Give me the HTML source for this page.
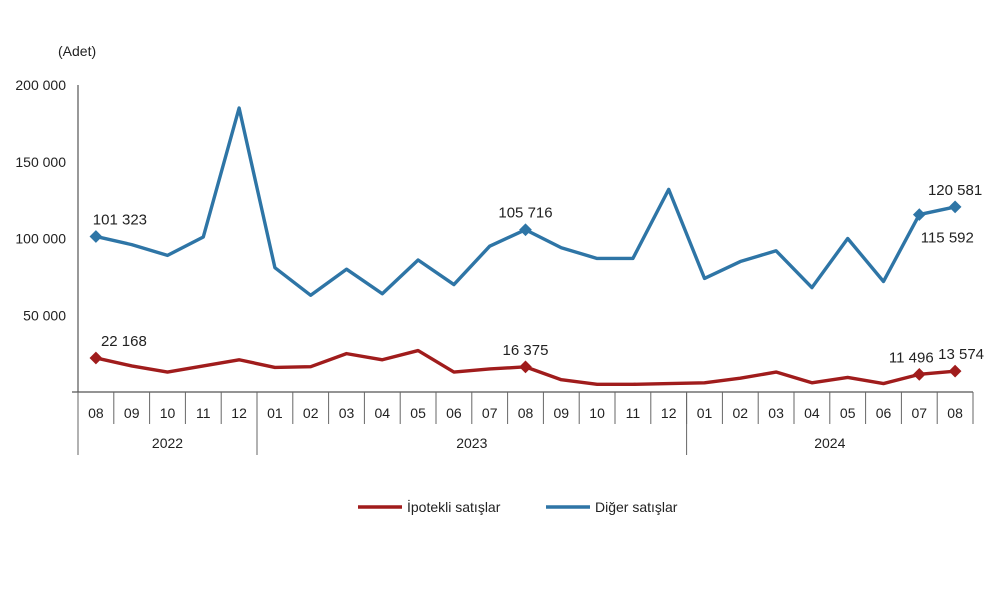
<!DOCTYPE html>
<html><head><meta charset="utf-8"><style>
body{margin:0;background:#fff;}
svg text{font-family:"Liberation Sans",sans-serif;fill:#222;}
</style></head><body>
<svg id="c" width="1000" height="593" viewBox="0 0 1000 593"></svg>
<script>
const months=["08","09","10","11","12","01","02","03","04","05","06","07","08","09","10","11","12","01","02","03","04","05","06","07","08"];
const years=["2022","2023","2024"];
const yearSpans=[5,12,8];
const diger=[101323,96000,89000,101000,185000,81000,63000,80000,64000,86000,70000,95000,105716,94000,87000,87000,132000,74000,85000,92000,68000,100000,72000,115592,120581];
const ipotekli=[22168,17000,13000,17000,21000,16000,16500,25000,21000,27000,13000,15000,16375,8000,5000,5000,5500,6000,9000,13000,6000,9500,5500,11496,13574];
const yTicks=[0,50000,100000,150000,200000];
const yTickLabels=["","50 000","100 000","150 000","200 000"];
const labeledIdx=[0,12,23,24];
const NS="http://www.w3.org/2000/svg";
const svg=document.getElementById('c');
const L=78,R=973,T=85,B=392,yMax=200000;
const bw=(R-L)/months.length;
const x=i=>L+bw*(i+0.5);
const y=v=>B-(v/yMax)*(B-T);
function el(t,a,p){const e=document.createElementNS(NS,t);for(const k in a)e.setAttribute(k,a[k]);(p||svg).appendChild(e);return e;}
function fmt(v){return String(v).replace(/\B(?=(\d{3})+(?!\d))/g," ");}
let t=el('text',{x:58,y:56,'font-size':14});t.textContent="(Adet)";


yTicks.forEach((v,i)=>{const tx=el('text',{x:66,y:y(v)+5,'font-size':14,'text-anchor':'end'});tx.textContent=yTickLabels[i];

});
el('line',{x1:L,y1:T,x2:L,y2:B,stroke:'#555','stroke-width':1.2});
el('line',{x1:L-6,y1:B,x2:R,y2:B,stroke:'#555','stroke-width':1.2});
months.forEach((m,i)=>{const tx=el('text',{x:x(i),y:418,'font-size':14,'text-anchor':'middle'});tx.textContent=m;


el('line',{x1:L+bw*(i+1),y1:B,x2:L+bw*(i+1),y2:424,stroke:'#666','stroke-width':1});});
let start=0;
years.forEach((yr,j)=>{const s=start,e=start+yearSpans[j];
el('line',{x1:L+bw*s,y1:B,x2:L+bw*s,y2:455,stroke:'#666','stroke-width':1});
const tx=el('text',{x:L+bw*(s+e)/2,y:448,'font-size':14,'text-anchor':'middle'});tx.textContent=yr;

start=e;});
function series(data,color,name,lblOff){
const p=el('polyline',{points:data.map((v,i)=>x(i)+','+y(v)).join(' '),fill:'none',stroke:color,'stroke-width':3.4,'stroke-linejoin':'round'});


labeledIdx.forEach(i=>{const d=el('rect',{x:x(i)-4.5,y:y(data[i])-4.5,width:9,height:9,fill:color,transform:`rotate(45 ${x(i)} ${y(data[i])})`});


const o=lblOff(i);const tx=el('text',{x:x(i)+o[0],y:y(data[i])+o[1],'font-size':15,'text-anchor':'middle'});tx.textContent=fmt(data[i]);

});}
series(ipotekli,'#a01c1c','ipotekli',i=>[i==0?28:(i==23?-8:(i==24?6:0)),-12]);
series(diger,'#2e75a6','diger',i=>i==23?[28,28]:(i==0?[24,-12]:[0,-12]));
el('line',{x1:358,y1:507,x2:402,y2:507,stroke:'#a01c1c','stroke-width':3.5});
t=el('text',{x:407,y:512,'font-size':14});t.textContent="İpotekli satışlar";


el('line',{x1:546,y1:507,x2:590,y2:507,stroke:'#2e75a6','stroke-width':3.5});
t=el('text',{x:595,y:512,'font-size':14});t.textContent="Diğer satışlar";


</script>
</body></html>
